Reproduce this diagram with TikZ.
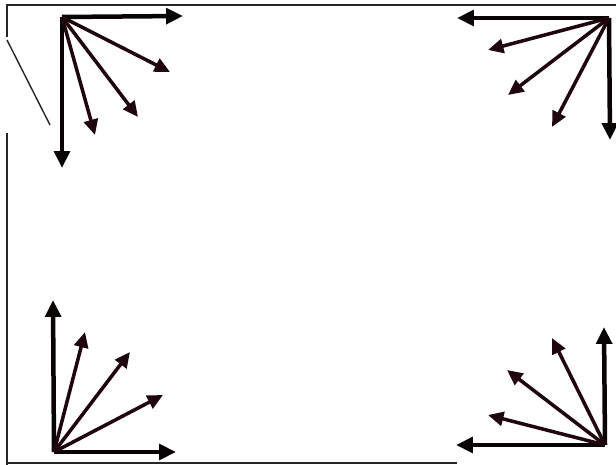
\documentclass[tikz,border=0pt]{standalone}
\usepackage{xcolor}
\usetikzlibrary{arrows.meta}
\definecolor{axisblack}{RGB}{8, 4, 4}
\definecolor{raymaroon}{RGB}{30, 6, 12}

\begin{document}
\begin{tikzpicture}[
    x=0.025cm, y=-0.025cm,
    frame/.style={draw=black!85, line width=1.3pt},
    axis/.style={-{Triangle[length=12pt, width=11pt]}, axisblack, line width=3.2pt},
    ray/.style={-{Triangle[length=11pt, width=10pt]}, raymaroon, line width=2.5pt}
]
\useasboundingbox (0,0) rectangle (616,465);

% Frame
\coordinate (f1) at (7,5);
\coordinate (f2) at (616,5);
\coordinate (f3) at (7,37);
\coordinate (f4) at (7,40);
\coordinate (f5) at (50,125);
\coordinate (f6) at (7,133);
\coordinate (f7) at (7,465);
\coordinate (f8) at (7,463);
\coordinate (f9) at (457,463);
\draw[frame] (f3) -- (f1) -- (f2);
\draw[frame, line width=1pt] (f4) -- (f5);
\draw[frame] (f6) -- (f7);
\draw[frame] (f8) -- (f9);

% Top left corner
\coordinate (tl) at (62,17);
\coordinate (tl1) at (183,16);
\coordinate (tl2) at (170,72);
\coordinate (tl3) at (138,117);
\coordinate (tl4) at (95,135);
\coordinate (tl5) at (62,168);

% Top right corner
\coordinate (tr) at (609,18);
\coordinate (tr1) at (457,18);
\coordinate (tr2) at (488,50);
\coordinate (tr3) at (508,95);
\coordinate (tr4) at (552,127);
\coordinate (tr5) at (610,140);

% Bottom left corner
\coordinate (bl) at (54,452);
\coordinate (bl1) at (53,300);
\coordinate (bl2) at (85,332);
\coordinate (bl3) at (130,352);
\coordinate (bl4) at (163,395);
\coordinate (bl5) at (176,452);

% Bottom right corner
\coordinate (br) at (605,445);
\coordinate (br1) at (604,327);
\coordinate (br2) at (552,338);
\coordinate (br3) at (507,370);
\coordinate (br4) at (488,415);
\coordinate (br5) at (456,445);

% Arrows
\foreach \c in {tl,tr,bl,br} {
    \draw[axis] (\c) -- (\c1);
    \draw[axis] (\c) -- (\c5);
    \foreach \i in {2,3,4}
        \draw[ray] (\c) -- (\c\i);
}
\end{tikzpicture}
\end{document}
